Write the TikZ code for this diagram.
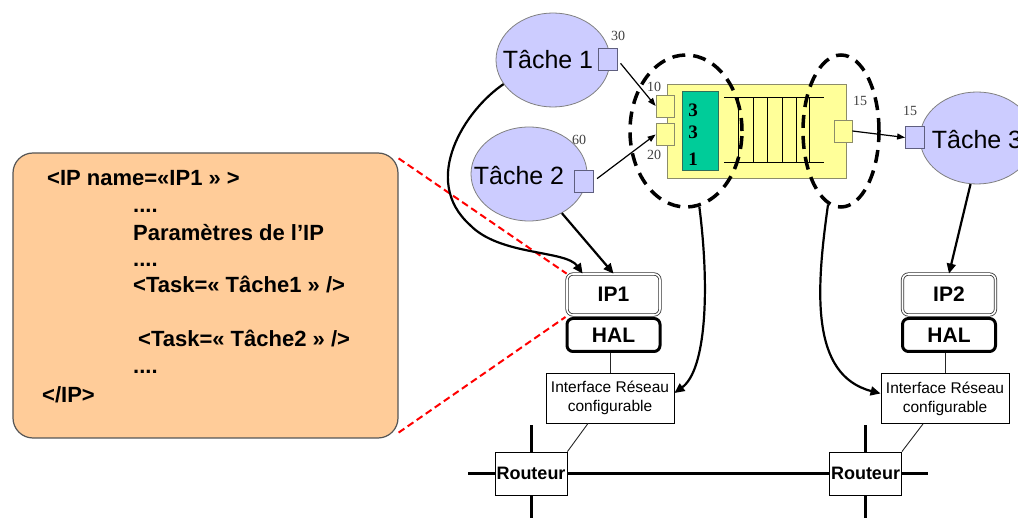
\documentclass[tikz,border=0pt]{standalone}
\usepackage{fontspec}
\setmainfont{Liberation Sans}
\newfontfamily\numfont{Liberation Serif}
\usetikzlibrary{shapes.geometric,arrows.meta}

\definecolor{taskfill}{HTML}{CCCCFF}
\definecolor{taskline}{HTML}{808080}
\definecolor{portline}{HTML}{5F5F7F}
\definecolor{fifofill}{HTML}{FFFF99}
\definecolor{fifoline}{HTML}{8C8C6A}
\definecolor{ctrlfill}{HTML}{00CC99}
\definecolor{ctrlline}{HTML}{2F6F5A}
\definecolor{notefill}{HTML}{FFCC99}
\definecolor{noteline}{HTML}{555555}

\tikzset{
  task/.style={ellipse, draw=taskline, fill=taskfill, line width=0.8pt, inner sep=0pt,
    font=\fontsize{25}{25}\selectfont},
  taskport/.style={rectangle, draw=portline, fill=taskfill, line width=0.8pt,
    minimum width=19pt, minimum height=22pt, inner sep=0pt},
  fifoport/.style={rectangle, draw=fifoline, fill=fifofill, line width=0.8pt,
    minimum width=18pt, minimum height=22pt, inner sep=0pt},
  prio/.style={font=\numfont\fontsize{14}{14}\selectfont, text=black!75, inner sep=0pt},
  zone/.style={ellipse, draw, line width=3.5pt, dash pattern=on 13pt off 8pt, inner sep=0pt},
  flow/.style={-{Triangle[length=8pt,width=6pt]}, line width=1.2pt},
  map/.style={-{Triangle[length=10pt,width=9pt]}, line width=2.2pt},
  ipbox/.style={draw=black!80, double, double distance=1.6pt, line width=0.8pt,
    rounded corners=6pt, fill=white, minimum width=93pt, minimum height=41pt,
    inner sep=0pt, font=\bfseries\fontsize{21}{21}\selectfont},
  halbox/.style={draw, line width=3pt, rounded corners=6pt, fill=white,
    minimum width=93pt, minimum height=33pt, inner sep=0pt,
    font=\bfseries\fontsize{21}{21}\selectfont},
  nibox/.style={draw, line width=0.9pt, fill=white, minimum width=128pt,
    minimum height=50pt, inner sep=0pt, align=center,
    font=\fontsize{15.5}{19}\selectfont},
  router/.style={draw, line width=0.9pt, fill=white, minimum width=72pt,
    minimum height=43pt, inner sep=0pt, font=\bfseries\fontsize{18}{18}\selectfont},
  link/.style={line width=3pt},
  wire/.style={line width=0.9pt, black!85},
  notebox/.style={draw=noteline, fill=notefill, line width=1.2pt, rounded corners=20pt,
    minimum width=385pt, minimum height=285pt, inner sep=0pt},
  xml/.style={anchor=base west, inner sep=0pt, font=\bfseries\fontsize{22}{22}\selectfont},
  callout/.style={red, line width=2pt, dash pattern=on 7pt off 4pt},
}

\begin{document}
\begin{tikzpicture}[x=1pt,y=-1pt]
\useasboundingbox (0,0) rectangle (1018,518);
\clip (0,0) rectangle (1018,518);

% ---------- XML description of the IP ----------
\node[notebox] (note) at (205.5,295.5) {};
\node[xml] (x1) at (47,186) {<IP name=«IP1 » >};
\node[xml] (x2) at (133,213) {....};
\node[xml] (x3) at (133,241) {Paramètres de l’IP};
\node[xml] (x4) at (133,267) {....};
\node[xml] (x5) at (133,293) {<Task=« Tâche1 » />};
\node[xml] (x6) at (138,347) {<Task=« Tâche2 » />};
\node[xml] (x7) at (133,374) {....};
\node[xml] (x8) at (42,403) {</IP>};

% ---------- network ----------
\node[router] (r1) at (531,473.5) {Routeur};
\node[router] (r2) at (865.5,473.5) {Routeur};
\coordinate (r1t) at (531,425);
\coordinate (r1b) at (531,522);
\coordinate (r1l) at (468,473.5);
\coordinate (r2t) at (865.5,425);
\coordinate (r2b) at (865.5,522);
\coordinate (r2r) at (928,473.5);
\draw[link] (r1.east) -- (r2.west);
\draw[link] (r1.north) -- (r1t);
\draw[link] (r1.south) -- (r1b);
\draw[link] (r1.west) -- (r1l);
\draw[link] (r2.north) -- (r2t);
\draw[link] (r2.south) -- (r2b);
\draw[link] (r2.east) -- (r2r);

\node[nibox] (ni1) at (610,398) {Interface Réseau\\configurable};
\node[nibox] (ni2) at (945,398.5) {Interface Réseau\\configurable};
\draw[wire] ([xshift=-22pt]ni1.south) -- (r1.north east);
\draw[wire] ([xshift=-22pt]ni2.south) -- (r2.north east);

% ---------- IP blocks ----------
\node[ipbox] (ip1) at (613.5,294.5) {IP1};
\node[halbox] (hal1) at (613.5,335) {HAL};
\node[ipbox] (ip2) at (949,294.5) {IP2};
\node[halbox] (hal2) at (949,335) {HAL};
\draw[wire] (ni1.north) -- (ni1.north |- hal1.south);
\draw[wire] (ni2.north) -- (ni2.north |- hal2.south);

% ---------- callout ----------
\draw[callout] ([yshift=-6pt]note.north east) -- (ip1.north west);
\draw[callout] ([yshift=6pt]note.south east) -- (hal1.north west);

% ---------- tasks ----------
\node[task, minimum width=114pt, minimum height=94pt,
  label={[xshift=-5pt,font=\fontsize{25}{25}\selectfont]center:Tâche 1}] (t1) at (553,60) {};
\node[task, minimum width=116pt, minimum height=94pt,
  label={[xshift=-10pt,yshift=-2pt,font=\fontsize{25}{25}\selectfont]center:Tâche 2}] (t2) at (529,174) {};
\node[task, minimum width=114pt, minimum height=92pt,
  label={[yshift=-2pt,font=\fontsize{25}{25}\selectfont]center:Tâche 3}] (t3) at (977,138) {};
\node[taskport] (p1) at (607.5,59.5) {};
\node[taskport] (p2) at (584,181) {};
\node[taskport] (p3) at (915,137.5) {};
\node[prio] (n30) at (618,36) {30};
\node[prio] (n60) at (579,140) {60};
\node[prio] (n15b) at (910,111) {15};

% ---------- FIFO component ----------
\node[rectangle, draw=fifoline, fill=fifofill, line width=0.8pt,
  minimum width=179pt, minimum height=94pt, inner sep=0pt] (fifo) at (756.5,131) {};
\node[rectangle, draw=ctrlline, fill=ctrlfill, line width=0.8pt,
  minimum width=36pt, minimum height=79pt, inner sep=0pt] (ctrl) at (700,130.5) {};
\node[font=\numfont\bfseries\fontsize{19}{19}\selectfont, anchor=base, inner sep=0pt] (c1) at (693,117) {3};
\node[font=\numfont\bfseries\fontsize{19}{19}\selectfont, anchor=base, inner sep=0pt] (c2) at (693,139) {3};
\node[font=\numfont\bfseries\fontsize{19}{19}\selectfont, anchor=base, inner sep=0pt] (c3) at (693,166) {1};
\draw[line width=1pt] (724,98) -- (824,98) (724,163) -- (824,163);
\foreach \qx in {738,753,767,782,796,809}
  \draw[line width=1pt] (\qx,98) -- (\qx,163);
\node[fifoport] (in1) at (665,106) {};
\node[fifoport] (in2) at (665,134.5) {};
\node[fifoport] (out) at (843,131) {};
\node[prio] (n10) at (654,87) {10};
\node[prio] (n20) at (654,155) {20};
\node[prio] (n15a) at (860,101) {15};

% ---------- mapping zones ----------
\node[zone, minimum width=112pt, minimum height=152pt] (z1) at (686,131) {};
\node[zone, minimum width=76pt, minimum height=152pt] (z2) at (841,131) {};

% ---------- data flow ----------
\draw[flow, shorten <=5pt] (p1.east) -- (in1.west);
\draw[flow, shorten <=4pt] (p2.east) -- (in2.west);
\draw[flow] (out.east) -- (p3.west);

% ---------- task / zone mapping ----------
\draw[map] (t1.206) .. controls (465,110) and (420,180) .. (470,225)
  .. controls (500,256) and (566,250) .. ([xshift=16pt]ip1.north west);
\draw[map] (t2.-50) -- (ip1.north);
\draw[map] (t3.262) -- (ip2.north);
\draw[map] (z1.-80) .. controls (710,290) and (706,370) .. ([yshift=5pt]ni1.east);
\draw[map] (z2.-100) .. controls (816,290) and (810,375) .. ([yshift=5pt]ni2.west);

\end{tikzpicture}
\end{document}
